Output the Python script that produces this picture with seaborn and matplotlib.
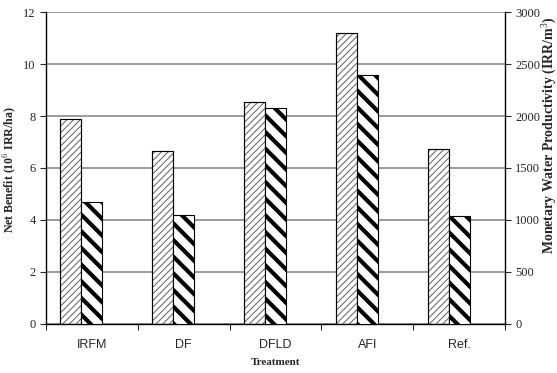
import matplotlib
matplotlib.use("Agg")
import matplotlib.pyplot as plt
from matplotlib.patches import Rectangle
import numpy as np
import pandas as pd
import seaborn as sns

# values
treatments = ["IRFM", "DF", "DFLD", "AFI", "Ref."]
net_benefit = [7.9, 6.64, 8.55, 11.2, 6.75]          # 10^6 IRR/ha (left axis)
water_productivity = [1170, 1050, 2075, 2393, 1040]  # IRR/m3 (right axis)

series_order = ["Net Benefit", "MWP", "blank"]

nb_df = pd.DataFrame({"Treatment": treatments, "value": net_benefit, "series": "Net Benefit"})
mwp_df = pd.DataFrame({"Treatment": treatments, "value": water_productivity, "series": "MWP"})

sns.set_style("white")
plt.rcParams["font.family"] = ["Liberation Serif", "DejaVu Serif"]
plt.rcParams["mathtext.fontset"] = "custom"
plt.rcParams["mathtext.rm"] = "Liberation Serif"
plt.rcParams["mathtext.bf"] = "Liberation Serif:bold"

fig = plt.figure(figsize=(5.57, 3.73), dpi=100)
ax1 = fig.add_axes([0.0826, 0.1314, 0.824, 0.8364])
ax2 = ax1.twinx()

pal = {s: "white" for s in series_order}
common = dict(x="Treatment", y="value", hue="series", hue_order=series_order,
              order=treatments, palette=pal, saturation=1, width=0.688, dodge=True,
              edgecolor="black", linewidth=0.8, legend=False)

sns.barplot(data=nb_df, ax=ax1, **common)
sns.barplot(data=mwp_df, ax=ax2, **common)

# fine grey diagonals for net benefit (grey hatch, black outline on top)
for p in list(ax1.patches):
    if p.get_height() == 0:
        continue
    p.set_hatch("/////")
    p.set_edgecolor("#707070")
    if hasattr(p, "set_hatch_linewidth"):
        p.set_hatch_linewidth(0.8)
    ax1.add_patch(Rectangle(p.get_xy(), p.get_width(), p.get_height(),
                            fill=False, edgecolor="black", linewidth=0.8, zorder=p.get_zorder()))
# bold back-diagonals for MWP
for p in ax2.patches:
    p.set_hatch("\\\\")
    if hasattr(p, "set_hatch_linewidth"):
        p.set_hatch_linewidth(3.0)

ax1.set_ylim(0, 12)
ax1.set_yticks(np.arange(0, 13, 2))
ax2.set_ylim(0, 3000)
ax2.set_yticks(np.arange(0, 3001, 500))
ax1.set_xlim(-0.5, 4.5)

ax1.set_axisbelow(True)
ax1.yaxis.grid(True, color="#808080", linewidth=1.1)
ax1.xaxis.grid(False)
ax2.grid(False)

for sp in ["top", "right"]:
    ax1.spines[sp].set_visible(False)
for sp in ["top", "left", "bottom"]:
    ax2.spines[sp].set_visible(False)
for ax in (ax1, ax2):
    for sp in ax.spines.values():
        sp.set_color("black")
        sp.set_linewidth(1.0)

# x ticks sit on the category boundaries
ax1.set_xticks(np.arange(-0.5, 5, 1), minor=True)
ax1.tick_params(axis="x", which="major", length=0, pad=11)
ax1.tick_params(axis="x", which="minor", length=4, width=0.8, direction="out", bottom=True)
ax1.set_xticklabels(treatments, family="Liberation Sans", fontsize=9)

ax1.tick_params(axis="y", length=4, width=0.8, direction="out", left=True, labelsize=9)
ax2.tick_params(axis="y", length=4, width=0.8, direction="out", right=True, labelsize=9)

ax1.set_xlabel("Treatment", fontsize=8, fontweight="bold")
ax1.xaxis.set_label_coords(0.5, -0.108)
ax1.set_ylabel("Net Benefit (10$^6$ IRR/ha)", fontsize=8.6, fontweight="bold")
ax1.yaxis.set_label_coords(-0.058, 0.494)
ax2.set_ylabel("Monetary Water Productivity (IRR/m$^3$)", fontsize=10,
               fontweight="bold", rotation=90)
ax2.yaxis.set_label_coords(1.074, 0.606)

fig.savefig("out.png", dpi=100)
